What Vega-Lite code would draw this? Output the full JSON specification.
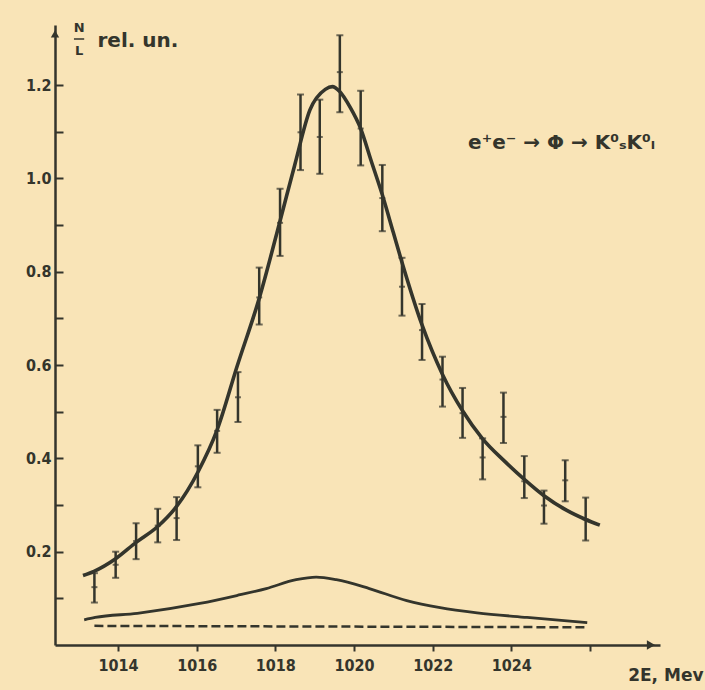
{
  "$schema": "https://vega.github.io/schema/vega-lite/v6.json",
  "width": 605,
  "height": 620,
  "autosize": {"type": "none"},
  "padding": {"left": 55, "top": 25, "right": 45, "bottom": 45},
  "background": "#f9e4b7",
  "config": {
    "view": {"stroke": null},
    "font": "DejaVu Sans",
    "axis": {
      "domainColor": "#34352c",
      "domainWidth": 2.5,
      "tickColor": "#34352c",
      "tickWidth": 2,
      "labelColor": "#34352c",
      "labelFont": "DejaVu Sans Condensed, Liberation Sans Narrow, DejaVu Sans, sans-serif",
      "labelFontWeight": "bold",
      "labelFontSize": 16,
      "titleColor": "#34352c",
      "titleFont": "DejaVu Sans, sans-serif",
      "titleFontWeight": "bold",
      "grid": false
    }
  },
  "datasets": {
    "points": [
      {"E": 1013.40, "N": 0.124, "lo": 0.091, "hi": 0.154},
      {"E": 1013.94, "N": 0.172, "lo": 0.144, "hi": 0.200},
      {"E": 1014.46, "N": 0.223, "lo": 0.184, "hi": 0.261},
      {"E": 1015.01, "N": 0.256, "lo": 0.220, "hi": 0.292},
      {"E": 1015.49, "N": 0.272, "lo": 0.225, "hi": 0.317},
      {"E": 1016.03, "N": 0.383, "lo": 0.338, "hi": 0.428},
      {"E": 1016.52, "N": 0.459, "lo": 0.412, "hi": 0.504},
      {"E": 1017.05, "N": 0.531, "lo": 0.478, "hi": 0.585},
      {"E": 1017.59, "N": 0.745, "lo": 0.687, "hi": 0.809},
      {"E": 1018.12, "N": 0.905, "lo": 0.834, "hi": 0.978},
      {"E": 1018.64, "N": 1.099, "lo": 1.018, "hi": 1.180},
      {"E": 1019.13, "N": 1.089, "lo": 1.010, "hi": 1.169},
      {"E": 1019.64, "N": 1.228, "lo": 1.142, "hi": 1.307},
      {"E": 1020.17, "N": 1.107, "lo": 1.028, "hi": 1.188},
      {"E": 1020.72, "N": 0.958, "lo": 0.887, "hi": 1.029},
      {"E": 1021.22, "N": 0.768, "lo": 0.706, "hi": 0.830},
      {"E": 1021.73, "N": 0.675, "lo": 0.611, "hi": 0.731},
      {"E": 1022.25, "N": 0.569, "lo": 0.511, "hi": 0.618},
      {"E": 1022.76, "N": 0.497, "lo": 0.444, "hi": 0.551},
      {"E": 1023.27, "N": 0.402, "lo": 0.355, "hi": 0.443},
      {"E": 1023.80, "N": 0.489, "lo": 0.433, "hi": 0.541},
      {"E": 1024.33, "N": 0.351, "lo": 0.315, "hi": 0.405},
      {"E": 1024.83, "N": 0.299, "lo": 0.260, "hi": 0.331},
      {"E": 1025.37, "N": 0.353, "lo": 0.308, "hi": 0.396},
      {"E": 1025.89, "N": 0.269, "lo": 0.224, "hi": 0.316}
    ],
    "fit": [
      {"E": 1013.11, "N": 0.149},
      {"E": 1013.39, "N": 0.158},
      {"E": 1013.94, "N": 0.185},
      {"E": 1014.46, "N": 0.220},
      {"E": 1015.01, "N": 0.254},
      {"E": 1015.48, "N": 0.296},
      {"E": 1016.04, "N": 0.372},
      {"E": 1016.52, "N": 0.461},
      {"E": 1017.03, "N": 0.598},
      {"E": 1017.59, "N": 0.743},
      {"E": 1018.12, "N": 0.909},
      {"E": 1018.49, "N": 1.028},
      {"E": 1018.88, "N": 1.147},
      {"E": 1019.27, "N": 1.191},
      {"E": 1019.45, "N": 1.197},
      {"E": 1019.63, "N": 1.187},
      {"E": 1019.90, "N": 1.153},
      {"E": 1020.17, "N": 1.107},
      {"E": 1020.44, "N": 1.037},
      {"E": 1020.72, "N": 0.965},
      {"E": 1021.00, "N": 0.884},
      {"E": 1021.20, "N": 0.826},
      {"E": 1021.73, "N": 0.686},
      {"E": 1022.25, "N": 0.580},
      {"E": 1022.76, "N": 0.502},
      {"E": 1023.26, "N": 0.443},
      {"E": 1023.84, "N": 0.393},
      {"E": 1024.33, "N": 0.355},
      {"E": 1024.83, "N": 0.320},
      {"E": 1025.40, "N": 0.289},
      {"E": 1025.89, "N": 0.269},
      {"E": 1026.25, "N": 0.257}
    ],
    "resonance": [
      {"E": 1013.14, "N": 0.054},
      {"E": 1013.42, "N": 0.059},
      {"E": 1014.49, "N": 0.068},
      {"E": 1016.08, "N": 0.089},
      {"E": 1017.02, "N": 0.106},
      {"E": 1017.77, "N": 0.121},
      {"E": 1018.53, "N": 0.140},
      {"E": 1019.04, "N": 0.1455},
      {"E": 1019.55, "N": 0.140},
      {"E": 1020.39, "N": 0.121},
      {"E": 1021.34, "N": 0.095},
      {"E": 1022.19, "N": 0.080},
      {"E": 1023.13, "N": 0.069},
      {"E": 1024.40, "N": 0.059},
      {"E": 1025.93, "N": 0.048}
    ],
    "background": [
      {"E": 1013.40, "N": 0.041},
      {"E": 1025.94, "N": 0.038}
    ],
    "notes": [
      {"note": "N"}
    ]
  },
  "layer": [
    {
      "data": {"name": "background"},
      "mark": {"type": "line", "color": "#34352c", "strokeWidth": 2.5, "strokeDash": [9, 4]},
      "encoding": {
        "x": {
          "field": "E",
          "type": "quantitative",
          "scale": {"domain": [1012.398, 1027.78], "nice": false, "zero": false},
          "axis": {
            "values": [1014, 1016, 1018, 1020, 1022, 1024, 1026],
            "tickSize": 6,
            "labelPadding": 6,
            "labelExpr": "datum.value > 1025 ? '' : datum.label",
            "format": "d",
            "title": "2E, Mev",
            "titleX": 648,
            "titleY": 30,
            "titleAlign": "right",
            "titleBaseline": "middle",
            "titleFontSize": 17
          }
        },
        "y": {
          "field": "N",
          "type": "quantitative",
          "scale": {"domain": [0, 1.329], "nice": false, "zero": true},
          "axis": {
            "values": [0.1, 0.2, 0.3, 0.4, 0.5, 0.6, 0.7, 0.8, 0.9, 1.0, 1.1, 1.2],
            "tickSize": -8,
            "labelPadding": 12,
            "labelExpr": "round(datum.value * 10) % 2 == 0 ? format(datum.value, '.1f') : ''",
            "title": "rel. un.",
            "titleAngle": 0,
            "titleX": 42,
            "titleY": 15,
            "titleAlign": "left",
            "titleBaseline": "middle",
            "titleFontSize": 20
          }
        }
      }
    },
    {
      "data": {"name": "resonance"},
      "mark": {"type": "line", "color": "#34352c", "strokeWidth": 2.8, "interpolate": "monotone"},
      "encoding": {
        "x": {"field": "E", "type": "quantitative", "scale": {"domain": [1012.398, 1027.78], "nice": false, "zero": false}},
        "y": {"field": "N", "type": "quantitative", "scale": {"domain": [0, 1.329], "nice": false, "zero": true}}
      }
    },
    {
      "data": {"name": "fit"},
      "mark": {"type": "line", "color": "#34352c", "strokeWidth": 3.6, "interpolate": "monotone"},
      "encoding": {
        "x": {"field": "E", "type": "quantitative", "scale": {"domain": [1012.398, 1027.78], "nice": false, "zero": false}},
        "y": {"field": "N", "type": "quantitative", "scale": {"domain": [0, 1.329], "nice": false, "zero": true}}
      }
    },
    {
      "data": {"name": "points"},
      "mark": {"type": "rule", "color": "#34352c", "strokeWidth": 2.5},
      "encoding": {
        "x": {"field": "E", "type": "quantitative", "scale": {"domain": [1012.398, 1027.78], "nice": false, "zero": false}},
        "y": {"field": "lo", "type": "quantitative", "scale": {"domain": [0, 1.329], "nice": false, "zero": true}},
        "y2": {"field": "hi"}
      }
    },
    {
      "data": {"name": "points"},
      "mark": {"type": "tick", "orient": "horizontal", "color": "#34352c", "size": 7, "thickness": 2},
      "encoding": {
        "x": {"field": "E", "type": "quantitative", "scale": {"domain": [1012.398, 1027.78], "nice": false, "zero": false}},
        "y": {"field": "lo", "type": "quantitative", "scale": {"domain": [0, 1.329], "nice": false, "zero": true}}
      }
    },
    {
      "data": {"name": "points"},
      "mark": {"type": "tick", "orient": "horizontal", "color": "#34352c", "size": 7, "thickness": 2},
      "encoding": {
        "x": {"field": "E", "type": "quantitative", "scale": {"domain": [1012.398, 1027.78], "nice": false, "zero": false}},
        "y": {"field": "hi", "type": "quantitative", "scale": {"domain": [0, 1.329], "nice": false, "zero": true}}
      }
    },
    {
      "data": {"name": "points"},
      "mark": {"type": "tick", "orient": "horizontal", "color": "#34352c", "size": 6, "thickness": 2},
      "encoding": {
        "x": {"field": "E", "type": "quantitative", "scale": {"domain": [1012.398, 1027.78], "nice": false, "zero": false}},
        "y": {"field": "N", "type": "quantitative", "scale": {"domain": [0, 1.329], "nice": false, "zero": true}}
      }
    },
    {
      "data": {"name": "notes"},
      "mark": {"type": "point", "shape": "triangle-right", "filled": true, "color": "#34352c", "size": 90, "opacity": 1},
      "encoding": {"x": {"datum": 1027.55, "type": "quantitative"}, "y": {"datum": 0, "type": "quantitative"}}
    },
    {
      "data": {"name": "notes"},
      "mark": {"type": "point", "shape": "triangle-up", "filled": true, "color": "#34352c", "size": 70, "opacity": 1},
      "encoding": {"x": {"datum": 1012.398, "type": "quantitative"}, "y": {"datum": 1.31, "type": "quantitative"}}
    },
    {
      "data": {"name": "notes"},
      "mark": {"type": "text", "text": "N", "color": "#34352c", "font": "DejaVu Sans, sans-serif", "fontWeight": "bold", "fontSize": 13, "align": "center", "baseline": "middle"},
      "encoding": {"x": {"datum": 1013.01, "type": "quantitative"}, "y": {"datum": 1.322, "type": "quantitative"}}
    },
    {
      "data": {"name": "notes"},
      "mark": {"type": "text", "text": "L", "color": "#34352c", "font": "DejaVu Sans, sans-serif", "fontWeight": "bold", "fontSize": 13, "align": "center", "baseline": "middle"},
      "encoding": {"x": {"datum": 1013.01, "type": "quantitative"}, "y": {"datum": 1.274, "type": "quantitative"}}
    },
    {
      "data": {"name": "notes"},
      "mark": {"type": "rule", "color": "#34352c", "strokeWidth": 1.5},
      "encoding": {"x": {"datum": 1012.88, "type": "quantitative"}, "x2": {"datum": 1013.14}, "y": {"datum": 1.299, "type": "quantitative"}}
    },
    {
      "data": {"name": "notes"},
      "mark": {"type": "text", "text": "e⁺e⁻ → Φ → K⁰ₛK⁰ₗ", "color": "#34352c", "font": "DejaVu Sans, sans-serif", "fontWeight": "bold", "fontSize": 20, "align": "center", "baseline": "middle"},
      "encoding": {"x": {"datum": 1025.28, "type": "quantitative"}, "y": {"datum": 1.077, "type": "quantitative"}}
    }
  ]
}
